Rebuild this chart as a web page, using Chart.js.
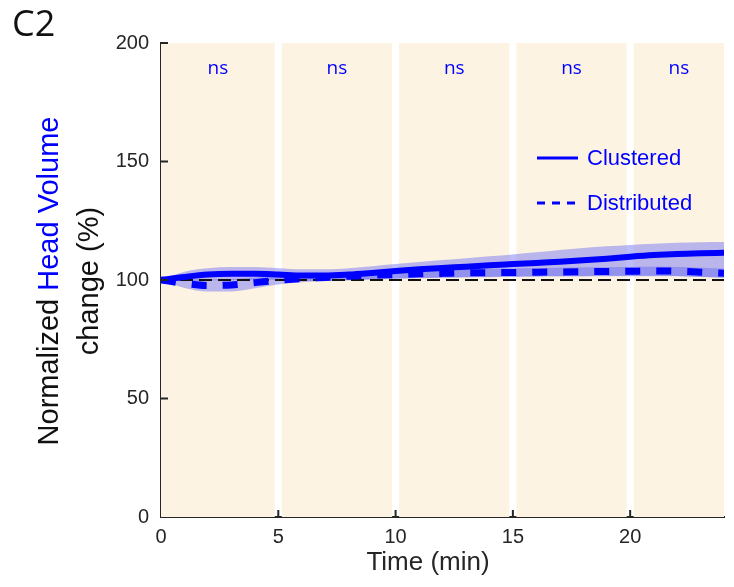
<!DOCTYPE html>
<html>
<head>
<meta charset="utf-8">
<script src="https://cdn.jsdelivr.net/npm/chart.js@4.4.1/dist/chart.umd.min.js"></script>
<style>
  html, body { margin: 0; padding: 0; background: #fff; }
</style>
</head>
<body>
<canvas id="chart" width="734" height="587"></canvas>
<script>
  // time axis (min)
  const times = [0,1,2,3,4,5,6,7,8,9,10,11,12,13,14,15,16,17,18,19,20,21,22,23,24];

  const clusteredMean = [100,101.3,102.3,102.6,102.6,102.3,101.9,101.9,102.3,103,103.8,104.5,105.1,105.6,106.2,106.7,107.2,107.7,108.3,109,109.8,110.5,111,111.3,111.5];
  const clusteredUpper = [100,103.5,105,105.5,105.5,105,104.5,104.5,105,105.8,106.7,107.6,108.4,109.2,110,110.8,111.7,112.7,113.5,114.2,114.8,115.3,115.7,115.9,116];
  const clusteredLower = [100,99.5,99.8,100,100.2,100,99.6,99.6,99.8,100.1,100.4,100.7,100.9,101.1,101.2,101.3,101.4,101.5,101.5,101.6,101.6,101.6,101.6,101.4,101.1];

  const distributedMean = [100,98.6,97.7,97.9,98.9,99.9,100.6,101.1,101.6,102,102.3,102.6,102.8,103,103.1,103.2,103.3,103.4,103.5,103.6,103.7,103.8,103.7,103.3,102.8];
  const distributedUpper = [100,100.3,100.2,100.4,101,101.6,102.2,102.7,103.2,103.6,103.9,104.2,104.4,104.6,104.7,104.9,105,105.2,105.3,105.4,105.5,105.6,105.5,105.2,104.8];
  const distributedLower = [100,96.6,95.1,95.2,96.5,98.1,99.1,99.6,100,100.4,100.7,100.9,101.1,101.3,101.4,101.5,101.6,101.7,101.7,101.8,101.8,101.8,101.7,101.3,100.9];

  const baseline = [100, 100];
  const baselineTimes = [0, 24];

  // shaded epochs and their stats labels
  const epochStart = [0, 5.15, 10.15, 15.15, 20.15];
  const epochEnd = [4.85, 9.85, 14.85, 19.85, 24];
  const epochLabels = ['ns', 'ns', 'ns', 'ns', 'ns'];

  const xTicks = [0, 5, 10, 15, 20];
  const yTicks = [0, 50, 100, 150, 200];

  const axisColor = '#262626';
  const blue = '#0000ff';
  const bandColor = 'rgba(94, 95, 244, 0.42)';
  const tickFont = "'Liberation Sans', Arial, sans-serif";

  const pts = (ys, xs = times) => ys.map((y, i) => ({ x: xs[i], y }));

  const lineBase = {
    pointRadius: 0,
    pointHoverRadius: 0,
    cubicInterpolationMode: 'monotone'
  };

  const decorPlugin = {
    id: 'decor',
    beforeDatasetsDraw(chart) {
      const { ctx, chartArea, scales } = chart;
      ctx.save();
      ctx.fillStyle = '#fdf3e3';
      epochStart.forEach((s, i) => {
        const x0 = scales.x.getPixelForValue(s);
        const x1 = scales.x.getPixelForValue(epochEnd[i]);
        ctx.fillRect(x0, chartArea.top, x1 - x0, chartArea.bottom - chartArea.top);
      });
      ctx.restore();
    },
    afterDatasetsDraw(chart) {
      const { ctx, chartArea, scales } = chart;
      ctx.save();
      ctx.fillStyle = blue;
      ctx.font = "19px 'Open Sans', sans-serif";
      ctx.textAlign = 'center';
      ctx.textBaseline = 'middle';
      epochLabels.forEach((lab, i) => {
        const xm = (scales.x.getPixelForValue(epochStart[i]) + scales.x.getPixelForValue(epochEnd[i])) / 2;
        ctx.fillText(lab, xm, 69);
      });

      // inward tick marks
      ctx.strokeStyle = axisColor;
      ctx.lineWidth = 2;
      ctx.beginPath();
      xTicks.forEach((t) => {
        if (t === 0) return;
        const x = scales.x.getPixelForValue(t);
        ctx.moveTo(x, chartArea.bottom);
        ctx.lineTo(x, chartArea.bottom - 7);
      });
      yTicks.forEach((t) => {
        if (t === 0) return;
        const y = scales.y.getPixelForValue(t);
        ctx.moveTo(chartArea.left, y);
        ctx.lineTo(chartArea.left + 7, y);
      });
      ctx.stroke();

      // legend
      ctx.font = "22px 'Liberation Sans', Arial, sans-serif";
      ctx.textAlign = 'left';
      ctx.fillStyle = blue;
      ctx.strokeStyle = blue;
      ctx.lineWidth = 3;
      ctx.beginPath();
      ctx.moveTo(537, 158);
      ctx.lineTo(578, 158);
      ctx.stroke();
      ctx.fillText('Clustered', 587, 159);
      ctx.setLineDash([8, 7]);
      ctx.beginPath();
      ctx.moveTo(537, 203);
      ctx.lineTo(578, 203);
      ctx.stroke();
      ctx.setLineDash([]);
      ctx.fillText('Distributed', 587, 204);

      // x title
      ctx.fillStyle = axisColor;
      ctx.textAlign = 'center';
      ctx.font = "26px 'Liberation Sans', Arial, sans-serif";
      ctx.fillText('Time (min)', 428, 563);

      // panel letter
      ctx.fillStyle = '#111';
      ctx.textAlign = 'left';
      ctx.textBaseline = 'alphabetic';
      ctx.font = "36px 'Open Sans', sans-serif";
      ctx.fillText('C2', 12, 36);

      // y title, two lines, middle words in blue
      ctx.save();
      ctx.translate(50, 281);
      ctx.rotate(-Math.PI / 2);
      ctx.font = "29px 'Liberation Sans', Arial, sans-serif";
      ctx.textBaseline = 'middle';
      ctx.textAlign = 'left';
      const p1 = 'Normalized ', p2 = 'Head Volume';
      const w1 = ctx.measureText(p1).width, w2 = ctx.measureText(p2).width;
      const sx = -(w1 + w2) / 2;
      ctx.fillStyle = '#111';
      ctx.fillText(p1, sx, 0);
      ctx.fillStyle = blue;
      ctx.fillText(p2, sx + w1, 0);
      ctx.fillStyle = '#111';
      ctx.textAlign = 'center';
      ctx.fillText('change (%)', 0, 40);
      ctx.restore();

      ctx.restore();
    }
  };

  new Chart(document.getElementById('chart'), {
    type: 'line',
    data: {
      datasets: [
        { ...lineBase, data: pts(clusteredUpper), borderWidth: 0, borderColor: 'transparent', backgroundColor: bandColor, fill: '+1', order: 5 },
        { ...lineBase, data: pts(clusteredLower), borderWidth: 0, borderColor: 'transparent', fill: false, order: 5 },
        { ...lineBase, data: pts(distributedUpper), borderWidth: 0, borderColor: 'transparent', backgroundColor: bandColor, fill: '+1', order: 4 },
        { ...lineBase, data: pts(distributedLower), borderWidth: 0, borderColor: 'transparent', fill: false, order: 4 },
        { ...lineBase, label: 'Baseline', data: pts(baseline, baselineTimes), borderColor: '#111', borderWidth: 2, borderDash: [13, 6], fill: false, order: 3 },
        { ...lineBase, label: 'Distributed', data: pts(distributedMean), borderColor: blue, borderWidth: 7, borderDash: [15, 16], fill: false, order: 1 },
        { ...lineBase, label: 'Clustered', data: pts(clusteredMean), borderColor: blue, borderWidth: 6, fill: false, order: 2 }
      ]
    },
    options: {
      responsive: false,
      animation: false,
      events: [],
      layout: { padding: { top: 43, right: 10, left: 0, bottom: 0 } },
      plugins: { legend: { display: false }, tooltip: { enabled: false } },
      scales: {
        x: {
          type: 'linear',
          min: 0,
          max: 24,
          afterBuildTicks: (s) => { s.ticks = xTicks.map((v) => ({ value: v })); },
          afterFit: (s) => { s.height = 70; },
          grid: { drawOnChartArea: false, drawTicks: false },
          border: { display: true, color: axisColor, width: 2 },
          ticks: { color: axisColor, font: { family: tickFont, size: 20 }, padding: 8 }
        },
        y: {
          min: 0,
          max: 200,
          afterBuildTicks: (s) => { s.ticks = yTicks.map((v) => ({ value: v })); },
          afterFit: (s) => { s.width = 161; },
          grid: { drawOnChartArea: false, drawTicks: false },
          border: { display: true, color: axisColor, width: 2 },
          ticks: { color: axisColor, font: { family: tickFont, size: 20 }, padding: 12 }
        }
      }
    },
    plugins: [decorPlugin]
  });
</script>
</body>
</html>
